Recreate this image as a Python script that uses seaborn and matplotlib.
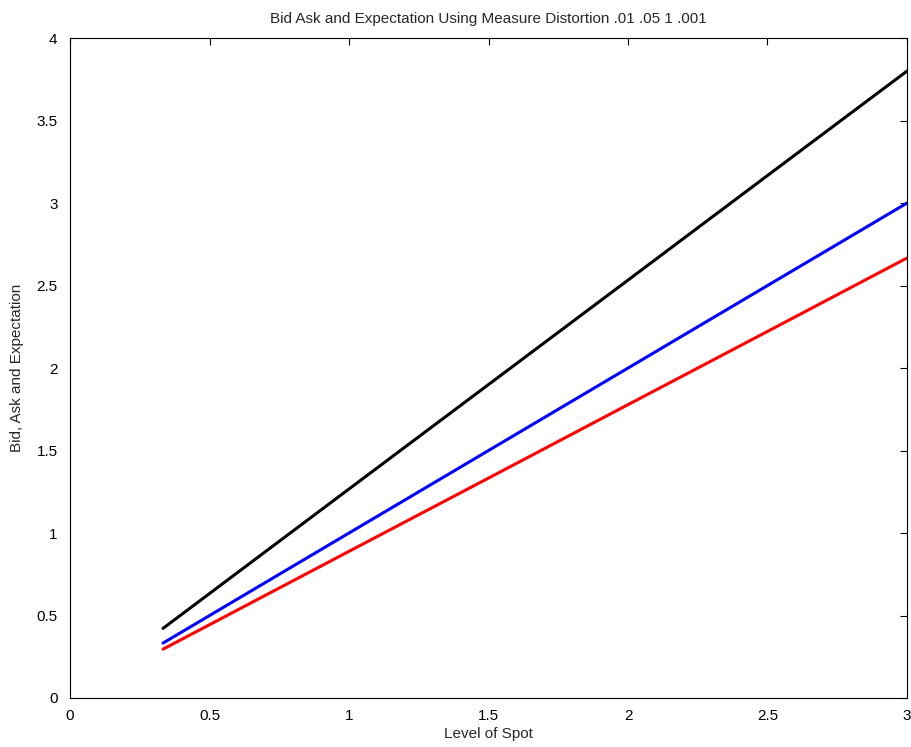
import pandas as pd
import seaborn as sns
import matplotlib
matplotlib.use('Agg')
import matplotlib.pyplot as plt

spot = [1/3, 1.0, 1.5, 2.0, 2.5, 3.0]
ask = [0.422, 1.267, 1.9, 2.533, 3.167, 3.8]
expectation = [0.333, 1.0, 1.5, 2.0, 2.5, 3.0]
bid = [0.296, 0.889, 1.333, 1.778, 2.222, 2.667]

df = pd.DataFrame({
    'spot': spot * 3,
    'value': ask + expectation + bid,
    'series': ['Ask'] * len(spot) + ['Expectation'] * len(spot) + ['Bid'] * len(spot),
})

sns.set_style('white')
plt.rcParams['font.family'] = ['Liberation Sans', 'DejaVu Sans']

fig = plt.figure(figsize=(9.12, 7.47), dpi=100)
ax = fig.add_axes([0.0768, 0.0656, 0.9177, 0.8834])
sns.lineplot(data=df, x='spot', y='value', hue='series',
             palette={'Ask': 'black', 'Expectation': 'blue', 'Bid': 'red'},
             linewidth=2.2, legend=False, ax=ax)

ax.set_xlim(0, 3)
ax.set_ylim(0, 4)
ax.set_xticks([0, 0.5, 1, 1.5, 2, 2.5, 3])
ax.set_xticklabels(['0', '0.5', '1', '1.5', '2', '2.5', '3'])
ax.set_yticks([0, 0.5, 1, 1.5, 2, 2.5, 3, 3.5, 4])
ax.set_yticklabels(['0', '0.5', '1', '1.5', '2', '2.5', '3', '3.5', '4'])
ax.tick_params(direction='in', top=True, right=True, length=5, width=0.8,
               labelsize=11, colors='black')
ax.tick_params(axis='x', pad=8)
ax.tick_params(axis='y', pad=9)
for s in ax.spines.values():
    s.set_color('black')
    s.set_linewidth(0.8)

ax.set_xlabel('Level of Spot', fontsize=11, labelpad=3)
ax.set_ylabel('Bid, Ask and Expectation', fontsize=11, labelpad=9)
ax.set_title('Bid Ask and Expectation Using Measure Distortion .01 .05 1 .001',
             fontsize=11, pad=11)

fig.savefig('out.png', dpi=100)
